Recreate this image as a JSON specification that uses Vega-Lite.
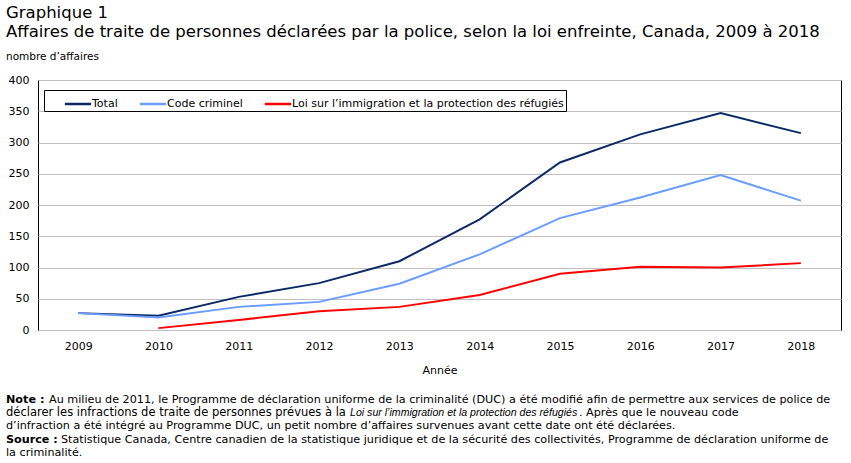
{
  "$schema": "https://vega.github.io/schema/vega-lite/v6.json",
  "width": 803,
  "height": 250,
  "autosize": {"type": "none"},
  "padding": {"left": 38, "top": 80, "right": 10, "bottom": 133},
  "background": "white",
  "config": {
    "font": "DejaVu Sans",
    "view": {"stroke": "black", "strokeWidth": 1}
  },
  "title": {
    "text": ["Graphique 1", "Affaires de traite de personnes déclarées par la police, selon la loi enfreinte, Canada, 2009 à 2018"],
    "subtitle": "nombre d’affaires",
    "anchor": "start",
    "frame": "group",
    "dx": -32,
    "offset": 12,
    "font": "DejaVu Sans",
    "fontSize": 16.5,
    "fontWeight": "normal",
    "lineHeight": 19,
    "color": "black",
    "subtitleFont": "DejaVu Sans",
    "subtitleFontSize": 10.5,
    "subtitleColor": "black",
    "subtitlePadding": 11
  },
  "datasets": {
    "affaires": [
      {"annee": "2009", "serie": "Total", "n": 27},
      {"annee": "2010", "serie": "Total", "n": 23},
      {"annee": "2011", "serie": "Total", "n": 53},
      {"annee": "2012", "serie": "Total", "n": 75},
      {"annee": "2013", "serie": "Total", "n": 110},
      {"annee": "2014", "serie": "Total", "n": 177},
      {"annee": "2015", "serie": "Total", "n": 268},
      {"annee": "2016", "serie": "Total", "n": 313},
      {"annee": "2017", "serie": "Total", "n": 347},
      {"annee": "2018", "serie": "Total", "n": 315},
      {"annee": "2009", "serie": "Code criminel", "n": 27},
      {"annee": "2010", "serie": "Code criminel", "n": 20},
      {"annee": "2011", "serie": "Code criminel", "n": 37},
      {"annee": "2012", "serie": "Code criminel", "n": 45},
      {"annee": "2013", "serie": "Code criminel", "n": 74},
      {"annee": "2014", "serie": "Code criminel", "n": 121},
      {"annee": "2015", "serie": "Code criminel", "n": 179},
      {"annee": "2016", "serie": "Code criminel", "n": 212},
      {"annee": "2017", "serie": "Code criminel", "n": 248},
      {"annee": "2018", "serie": "Code criminel", "n": 207},
      {"annee": "2010", "serie": "Loi sur l’immigration et la protection des réfugiés", "n": 3},
      {"annee": "2011", "serie": "Loi sur l’immigration et la protection des réfugiés", "n": 16},
      {"annee": "2012", "serie": "Loi sur l’immigration et la protection des réfugiés", "n": 30},
      {"annee": "2013", "serie": "Loi sur l’immigration et la protection des réfugiés", "n": 37},
      {"annee": "2014", "serie": "Loi sur l’immigration et la protection des réfugiés", "n": 56},
      {"annee": "2015", "serie": "Loi sur l’immigration et la protection des réfugiés", "n": 90},
      {"annee": "2016", "serie": "Loi sur l’immigration et la protection des réfugiés", "n": 101},
      {"annee": "2017", "serie": "Loi sur l’immigration et la protection des réfugiés", "n": 100},
      {"annee": "2018", "serie": "Loi sur l’immigration et la protection des réfugiés", "n": 107}
    ]
  },
  "layer": [
    {
      "data": {"name": "affaires"},
      "mark": {"type": "line", "strokeWidth": 2},
      "encoding": {
        "x": {
          "field": "annee",
          "type": "ordinal",
          "axis": {
            "title": "Année",
            "titleFont": "DejaVu Sans",
            "titleFontSize": 11,
            "titleFontWeight": "normal",
            "titleColor": "black",
            "titlePadding": 13,
            "labelAngle": 0,
            "labelFontSize": 11,
            "labelColor": "black",
            "labelPadding": 10,
            "ticks": false,
            "domain": false
          }
        },
        "y": {
          "field": "n",
          "type": "quantitative",
          "scale": {"domain": [0, 400], "nice": false},
          "axis": {
            "title": null,
            "values": [0, 50, 100, 150, 200, 250, 300, 350, 400],
            "labelFontSize": 11,
            "labelColor": "black",
            "labelPadding": 9,
            "ticks": false,
            "domain": false,
            "gridColor": "#c0c0c0",
            "gridWidth": 1
          }
        },
        "color": {
          "field": "serie",
          "type": "nominal",
          "scale": {
            "domain": ["Total", "Code criminel", "Loi sur l’immigration et la protection des réfugiés"],
            "range": ["#0b2a63", "#6b9cff", "#ff0000"]
          },
          "legend": {
            "orient": "none",
            "legendX": 6,
            "legendY": 10,
            "direction": "horizontal",
            "title": "\u00a0",
            "titleOrient": "left",
            "titlePadding": 20,
            "titleFontSize": 11,
            "strokeColor": "black",
            "fillColor": "white",
            "padding": 2,
            "symbolType": "M-1.25,0H1.25",
            "symbolSize": 441,
            "symbolStrokeWidth": 2.5,
            "labelFontSize": 11,
            "labelColor": "black",
            "labelOffset": 2,
            "labelLimit": 400,
            "columnPadding": 16,
            "labelExpr": "indexof(datum.label, 'Loi') == 0 ? datum.label + '\u00a0\u00a0\u00a0\u00a0\u00a0' : datum.label"
          }
        }
      }
    },
    {
      "data": {"values": [{}]},
      "mark": {"type": "text", "x": -32, "y": 320, "align": "left", "font": "DejaVu Sans", "fontSize": 11.2, "fontWeight": "bold", "text": "Note :"},
      "encoding": {}
    },
    {
      "data": {"values": [{}]},
      "mark": {"type": "text", "x": 11, "y": 320, "align": "left", "font": "DejaVu Sans", "fontSize": 11.2, "text": "Au milieu de 2011, le Programme de déclaration uniforme de la criminalité (DUC) a été modifié afin de permettre aux services de police de"},
      "encoding": {}
    },
    {
      "data": {"values": [{}]},
      "mark": {"type": "text", "x": -32, "y": 333, "align": "left", "font": "DejaVu Sans", "fontSize": 11.5, "text": "déclarer les infractions de traite de personnes prévues à la"},
      "encoding": {}
    },
    {
      "data": {"values": [{}]},
      "mark": {"type": "text", "x": 312, "y": 333, "align": "left", "font": "Liberation Sans", "fontSize": 10.6, "fontStyle": "italic", "text": "Loi sur l’immigration et la protection des réfugiés"},
      "encoding": {}
    },
    {
      "data": {"values": [{}]},
      "mark": {"type": "text", "x": 541, "y": 333, "align": "left", "font": "DejaVu Sans", "fontSize": 11.2, "text": ". Après que le nouveau code"},
      "encoding": {}
    },
    {
      "data": {"values": [{}]},
      "mark": {"type": "text", "x": -32, "y": 346, "align": "left", "font": "DejaVu Sans", "fontSize": 11.2, "text": "d’infraction a été intégré au Programme DUC, un petit nombre d’affaires survenues avant cette date ont été déclarées."},
      "encoding": {}
    },
    {
      "data": {"values": [{}]},
      "mark": {"type": "text", "x": -32, "y": 360, "align": "left", "font": "DejaVu Sans", "fontSize": 11.2, "fontWeight": "bold", "text": "Source :"},
      "encoding": {}
    },
    {
      "data": {"values": [{}]},
      "mark": {"type": "text", "x": 23, "y": 360, "align": "left", "font": "DejaVu Sans", "fontSize": 11.2, "text": "Statistique Canada, Centre canadien de la statistique juridique et de la sécurité des collectivités, Programme de déclaration uniforme de"},
      "encoding": {}
    },
    {
      "data": {"values": [{}]},
      "mark": {"type": "text", "x": -32, "y": 373, "align": "left", "font": "DejaVu Sans", "fontSize": 11.2, "text": "la criminalité."},
      "encoding": {}
    }
  ]
}
